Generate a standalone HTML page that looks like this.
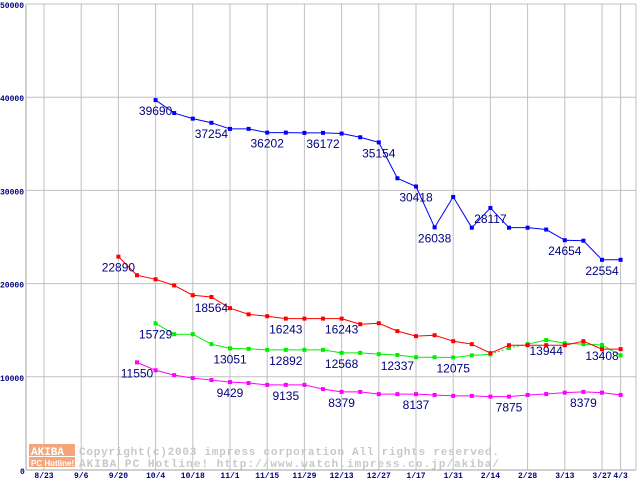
<!DOCTYPE html>
<html><head><meta charset="utf-8"><style>
body{margin:0;background:#fff;width:640px;height:480px;overflow:hidden}
svg{display:block}
</style></head><body>
<svg id="chart" width="640" height="480" xmlns="http://www.w3.org/2000/svg" font-family="Liberation Sans, sans-serif">
<g id="grid"></g>
<g id="axes"></g>
<g id="watermark">
<rect x="29" y="444" width="46" height="12" fill="#f4a67a"/>
<rect x="29" y="457" width="46" height="10" fill="#f4a67a"/>
<text x="31" y="455" font-size="11" font-weight="bold" fill="#fff" font-family="Liberation Mono, monospace">AKIBA</text>
<text x="31" y="466" font-size="8" font-weight="bold" fill="#fff">PC Hotline!</text>
<text x="79" y="455" font-size="11" font-weight="bold" fill="#c8c8c8" font-family="Liberation Mono, monospace" textLength="420">Copyright(c)2003 impress corporation All rights reserved.</text>
<text x="79" y="467" font-size="11" font-weight="bold" fill="#c8c8c8" font-family="Liberation Mono, monospace" textLength="420">AKIBA PC Hotline!  http://www.watch.impress.co.jp/akiba/</text>
</g>
<g id="series"></g>
</svg>
<script>
const xTickLabels=["8/23","9/6","9/20","10/4","10/18","11/1","11/15","11/29","12/13","12/27","1/17","1/31","2/14","2/28","3/13","3/27","4/3"];
const yTicks=[0,10000,20000,30000,40000,50000];
const blueValues=[null,null,null,null,null,null,39690,38300,37700,37254,36600,36600,36202,36200,36172,36172,36100,35700,35154,31300,30418,26038,29300,26000,28117,26000,26000,25800,24654,24600,22554,22554];
const redValues=[null,null,null,null,22890,20900,20460,19800,18750,18564,17360,16700,16500,16243,16243,16243,16243,15640,15750,14900,14360,14460,13820,13500,12540,13390,13390,13390,13390,13820,12970,12970];
const greenValues=[null,null,null,null,null,null,15729,14570,14570,13500,13051,13000,12892,12892,12892,12892,12568,12568,12430,12337,12100,12100,12075,12300,12400,13100,13500,13944,13600,13500,13408,12300];
const magentaValues=[null,null,null,null,null,11550,10700,10180,9860,9650,9429,9330,9135,9135,9135,8680,8379,8379,8140,8137,8137,8050,7950,7950,7875,7875,8050,8150,8300,8379,8300,8050];
const blueLabels=[6,9,12,15,18,20,21,24,28,30];
const redLabels=[4,9,13,16];
const greenLabels=[6,10,13,16,19,22,27,30];
const magentaLabels=[5,10,13,16,20,25,29];
const dashedGreen=[24,25];
const NS="http://www.w3.org/2000/svg";
const L=26,R=636,T=4,B=470;
function xs(i){return 44+i*18.6;}
function ys(v){return B-(v/50000)*(B-T);}
function mk(tag,at,parent){const e=document.createElementNS(NS,tag);for(const k in at)e.setAttribute(k,at[k]);parent.appendChild(e);return e;}
const grid=document.getElementById('grid'),axes=document.getElementById('axes'),ser=document.getElementById('series');
yTicks.forEach(v=>{
 const l=mk('line',{x1:L,x2:R,y1:ys(v),y2:ys(v),stroke:'#c0c0c0'},grid);
 
 
 const t=mk('text',{x:v===0?20:0,y:ys(v)+4,'font-size':8,'font-weight':'bold',fill:'#000080','font-family':'Liberation Mono, monospace'},axes);
 t.textContent=String(v);
 
 
});
xTickLabels.forEach((s,k)=>{
 const idx=k<16?k*2:31;
 const x=xs(idx);
 const l=mk('line',{x1:x,x2:x,y1:T,y2:B,stroke:'#c0c0c0'},grid);
 
 
 const t=mk('text',{x:x,y:478,'font-size':8,'font-weight':'bold',fill:'#000080','text-anchor':'middle','font-family':'Liberation Mono, monospace'},axes);
 t.textContent=s;
 
 
});
const ax=mk('line',{x1:L,x2:L,y1:T,y2:B,stroke:'#a0a0a0'},axes);


const bx=mk('line',{x1:L,x2:R,y1:B,y2:B,stroke:'#a0a0a0'},axes);


const rx=mk('line',{x1:R,x2:R,y1:T,y2:B,stroke:'#c0c0c0'},axes);


function draw(vals,color,labels,name,dashed){
 const g=mk('g',{},ser);
 
 
 for(let i=0;i<vals.length-1;i++){
  if(vals[i]==null||vals[i+1]==null)continue;
  const a={x1:xs(i),y1:ys(vals[i]),x2:xs(i+1),y2:ys(vals[i+1]),stroke:color,'stroke-width':1};
  if(dashed&&dashed.includes(i))a['stroke-dasharray']='2,2';
  const l=mk('line',a,g);
  
  
 }
 vals.forEach((v,i)=>{
  if(v==null)return;
  const r=mk('rect',{x:xs(i)-2,y:ys(v)-2,width:4,height:4,fill:color},g);
  
  
 });
 labels.forEach(i=>{
  const t=mk('text',{x:xs(i),y:ys(vals[i])+15,'font-size':12,fill:'#000080','text-anchor':'middle'},g);
  t.textContent=String(vals[i]);
  
  
 });
}
draw(magentaValues,'#ff00ff',magentaLabels,'magenta');
draw(greenValues,'#00ee00',greenLabels,'green',dashedGreen);
draw(redValues,'#ff0000',redLabels,'red');
draw(blueValues,'#0000ff',blueLabels,'blue');
</script>
</body></html>
